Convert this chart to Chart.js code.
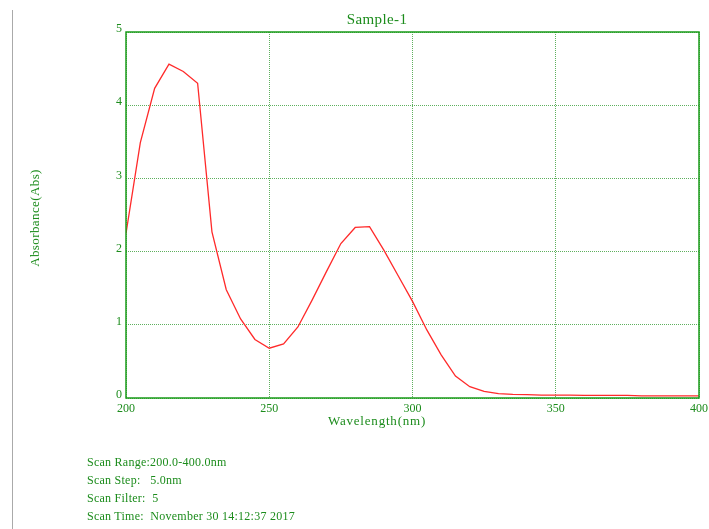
<!DOCTYPE html>
<html>
<head>
<meta charset="utf-8">
<script src="https://cdn.jsdelivr.net/npm/chart.js@4"></script>
<style>
  body { margin: 0; background: #fff; }
  #wrap { position: relative; width: 709px; height: 529px; overflow: hidden; font-family: 'Liberation Serif', serif; color: #1c8c1c; }
  #edge { position: absolute; left: 12px; top: 10px; width: 1px; height: 519px; background: #aaa; }
  .lbl { position: absolute; white-space: pre; line-height: 18px; }
  #title { left: 277px; width: 200px; top: 10px; text-align: center; font-size: 15px; letter-spacing: 0.4px; }
  #xtitle { left: 277px; width: 200px; top: 412px; text-align: center; font-size: 13px; letter-spacing: 0.8px; }
  #ytitle { left: -65px; width: 200px; top: 209px; text-align: center; font-size: 13px; letter-spacing: 0.4px; transform: rotate(-90deg); }
  #info { left: 87px; top: 453px; font-size: 12px; letter-spacing: 0.25px; }
</style>
</head>
<body>
<div id="wrap">
  <canvas id="spectrum" width="709" height="529"></canvas>
  <div id="edge"></div>
  <div class="lbl" id="title">Sample-1</div>
  <div class="lbl" id="xtitle">Wavelength(nm)</div>
  <div class="lbl" id="ytitle">Absorbance(Abs)</div>
  <div class="lbl" id="info">Scan Range:200.0-400.0nm
Scan Step:   5.0nm
Scan Filter:  5
Scan Time:  November 30 14:12:37 2017</div>
</div>
<script>
const wavelengths = [200, 205, 210, 215, 220, 225, 230, 235, 240, 245,
                     250, 255, 260, 265, 270, 275, 280, 285, 290, 295,
                     300, 305, 310, 315, 320, 325, 330, 335, 340, 345,
                     350, 355, 360, 365, 370, 375, 380, 385, 390, 395, 400];
const absorbance = [2.25, 3.49, 4.23, 4.56, 4.46, 4.30, 2.27, 1.48, 1.08, 0.80,
                    0.68, 0.74, 0.97, 1.34, 1.73, 2.11, 2.33, 2.34, 2.02, 1.67,
                    1.32, 0.93, 0.59, 0.30, 0.155, 0.09, 0.06, 0.05, 0.045, 0.04,
                    0.04, 0.04, 0.035, 0.035, 0.035, 0.035, 0.03, 0.03, 0.03, 0.03, 0.03];
const xTicks = [200, 250, 300, 350, 400];
const yTicks = [0, 1, 2, 3, 4, 5];

const green = '#1c8c1c';
const gridGreen = 'rgba(40, 150, 40, 0.75)';
const serif = "'Liberation Serif', serif";

// solid frame round the plot area
const frame = {
    id: 'frame',
    afterDraw(chart) {
        const { ctx, chartArea: a } = chart;
        ctx.save();
        ctx.strokeStyle = '#1a9a1a';
        ctx.lineWidth = 1.5;
        ctx.strokeRect(a.left, a.top, a.right - a.left, a.bottom - a.top);
        ctx.restore();
    }
};

new Chart(document.getElementById('spectrum'), {
    type: 'line',
    data: {
        datasets: [{
            label: 'Sample-1',
            data: wavelengths.map((w, i) => ({ x: w, y: absorbance[i] })),
            borderColor: '#ff2a2a',
            borderWidth: 1.3,
            pointRadius: 0,
            tension: 0,
            fill: false
        }]
    },
    options: {
        responsive: false,
        animation: false,
        layout: { padding: { left: 0, right: 10, top: 32, bottom: 101 } },
        plugins: {
            legend: { display: false },
            tooltip: { enabled: false },
            title: { display: false }
        },
        scales: {
            x: {
                type: 'linear',
                min: 200,
                max: 400,
                afterFit: s => { s.height = 30; s.paddingLeft = 0; s.paddingRight = 0; },
                afterBuildTicks: s => { s.ticks = xTicks.map(v => ({ value: v })); },
                grid: { color: gridGreen, lineWidth: 1, drawTicks: false },
                border: { display: false, dash: [1, 1] },
                ticks: { color: green, padding: 4, maxRotation: 0, font: { family: serif, size: 12 } }
            },
            y: {
                min: 0,
                max: 5,
                afterFit: s => { s.width = 126; },
                afterBuildTicks: s => { s.ticks = yTicks.map(v => ({ value: v })); },
                grid: { color: gridGreen, lineWidth: 1, drawTicks: false },
                border: { display: false, dash: [1, 1] },
                ticks: { color: green, padding: 4, labelOffset: -3, font: { family: serif, size: 12 } }
            }
        }
    },
    plugins: [frame]
});
</script>
</body>
</html>
